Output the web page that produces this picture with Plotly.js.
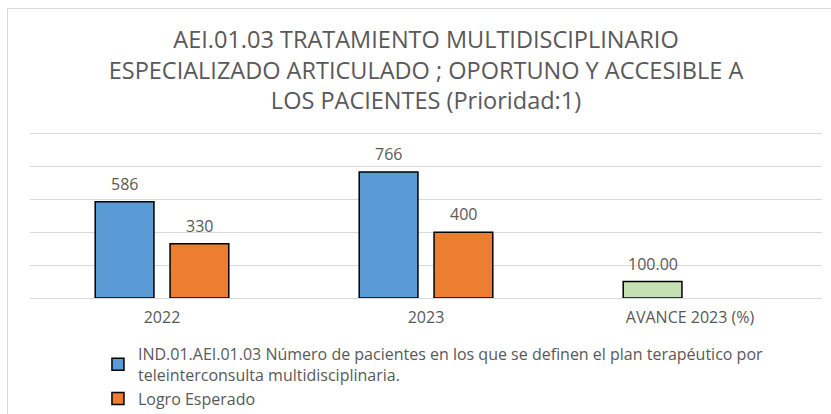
<!DOCTYPE html>
<html>
<head>
<meta charset="utf-8">
<script src="https://cdn.plot.ly/plotly-3.0.1.min.js"></script>
<style>
  html, body { margin: 0; padding: 0; background: #fff; }
  #chart { position: absolute; left: 0; top: 0; width: 831px; height: 414px; }
  #frame { position: absolute; left: 7px; top: 8px; width: 840px; height: 420px;
           border-left: 1px solid #d9d9d9; border-top: 1px solid #d9d9d9; pointer-events: none; }
</style>
</head>
<body>
<div id="chart"></div>
<div id="frame"></div>
<script>
const categories = ['2022', '2023', 'AVANCE 2023 (%)'];
const seriesNames = [
  'IND.01.AEI.01.03 Número de pacientes en los que se definen el plan terapéutico por<br>teleinterconsulta multidisciplinaria.',
  'Logro Esperado'
];
const indicadorValues = [586, 766, 100];
const indicadorLabels = ['586', '766', '100.00'];
const logroValues = [330, 400, null];
const logroLabels = ['330', '400', ''];

const FONT = '"Open Sans", sans-serif';
const TXT = '#595959';

const indicadorColors = ['#5B9BD5', '#5B9BD5', '#C5E0B4'];

const traces = [
  {
    type: 'bar', name: seriesNames[0], x: categories, y: indicadorValues,
    marker: { color: indicadorColors, line: { color: '#000', width: 1.5 } },
    hoverinfo: 'none'
  },
  {
    type: 'bar', name: seriesNames[1], x: categories, y: logroValues,
    marker: { color: '#ED7D31', line: { color: '#000', width: 1.5 } },
    hoverinfo: 'none'
  }
];

const slotShift = 37.4;
const annotations = [];
categories.forEach((c, i) => {
  if (indicadorValues[i] != null) annotations.push({
    x: i, y: indicadorValues[i], xref: 'x', yref: 'y', text: indicadorLabels[i],
    showarrow: false, yanchor: 'bottom', xshift: -slotShift, yshift: 5,
    font: { family: FONT, size: 16, color: TXT }
  });
  if (logroValues[i] != null) annotations.push({
    x: i, y: logroValues[i], xref: 'x', yref: 'y', text: logroLabels[i],
    showarrow: false, yanchor: 'bottom', xshift: slotShift, yshift: 5,
    font: { family: FONT, size: 16, color: TXT }
  });
});

const layout = {
  width: 831, height: 414,
  margin: { l: 30, r: 9, t: 132, b: 116 },
  paper_bgcolor: '#fff', plot_bgcolor: '#fff',
  font: { family: FONT, color: TXT },
  title: {
    text: 'AEI.01.03 TRATAMIENTO MULTIDISCIPLINARIO<br>ESPECIALIZADO ARTICULADO ; OPORTUNO Y ACCESIBLE A<br>LOS PACIENTES (Prioridad:1)',
    font: { family: FONT, size: 23.5, color: TXT },
    x: 0.5, xref: 'paper', xanchor: 'center',
    y: 1 - 48 / 414, yref: 'container', yanchor: 'top'
  },
  barmode: 'group', bargap: 0.433, bargroupgap: 0.215,
  xaxis: {
    type: 'category', showgrid: false, showline: false, ticks: '', zeroline: false,
    tickfont: { family: FONT, size: 16, color: TXT }, ticklabelstandoff: 8
  },
  yaxis: {
    range: [0, 1010], dtick: 200, showticklabels: false, showgrid: true,
    gridcolor: '#d9d9d9', gridwidth: 1, zeroline: true, zerolinecolor: '#d9d9d9', zerolinewidth: 1,
    showline: false, ticks: ''
  },
  showlegend: true,
  legend: {
    x: 0.0858, xref: 'paper', y: 1 - 337 / 414, yref: 'container', xanchor: 'left', yanchor: 'top',
    orientation: 'v',
    font: { family: FONT, size: 16, color: TXT }, itemwidth: 30, tracegroupgap: 17,
    bgcolor: 'rgba(0,0,0,0)', itemclick: false, itemdoubleclick: false
  },
  annotations: annotations
};

Plotly.newPlot('chart', traces, layout, { displayModeBar: false, staticPlot: true });
</script>
</body>
</html>
